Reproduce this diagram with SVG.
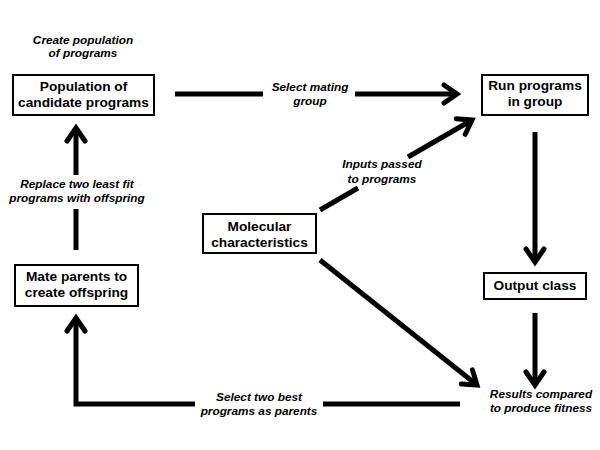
<svg xmlns="http://www.w3.org/2000/svg" width="600" height="450" viewBox="0 0 600 450">
<defs>
<marker id="ah" markerUnits="userSpaceOnUse" viewBox="-20 -15 30 30" markerWidth="30" markerHeight="30" refX="0" refY="0" orient="auto" overflow="visible">
<path d="M-13,-9 L0,0 L-13,9" fill="none" stroke="#000" stroke-width="5" stroke-linejoin="miter" stroke-linecap="round"/>
</marker>
<style>
.box{fill:#fff;stroke:#000;stroke-width:2}
.bt{font-family:"Liberation Sans",Arial,sans-serif;font-size:13.7px;font-weight:bold;text-anchor:middle;fill:#000}
.lb{font-family:"Liberation Sans",Arial,sans-serif;font-size:11.8px;font-weight:bold;font-style:italic;text-anchor:middle;fill:#000}
.c{fill:none;stroke:#000;stroke-width:5}
</style>
</defs>
<rect width="600" height="450" fill="#fff"/>
<g id="connectors">
<path class="c" d="M175,94 L263,94 M355,94 L457,94" marker-end="url(#ah)"/>
<path class="c" d="M320,210 L358,188 M408,157 L472,120" marker-end="url(#ah)"/>
<path class="c" d="M535,132 L535,262" marker-end="url(#ah)"/>
<path class="c" d="M535,313 L535,385" marker-end="url(#ah)"/>
<path class="c" d="M320,260 L477,385" marker-end="url(#ah)"/>
<path class="c" d="M460,404 L323,404 M195,404 L76,404 L76,318" marker-end="url(#ah)"/>
<path class="c" d="M76,250 L76,209 M76,175 L76,128" marker-end="url(#ah)"/>
</g>
<g id="labels">
<text class="lb" x="83" y="44">Create population</text>
<text class="lb" x="83" y="57">of programs</text>
<text class="lb" x="310" y="91">Select mating</text>
<text class="lb" x="310" y="105">group</text>
<text class="lb" x="382" y="168">Inputs passed</text>
<text class="lb" x="382" y="183">to programs</text>
<text class="lb" x="77" y="188">Replace two least fit</text>
<text class="lb" x="77" y="202">programs with offspring</text>
<text class="lb" x="541" y="398">Results compared</text>
<text class="lb" x="541" y="412">to produce fitness</text>
<text class="lb" x="259" y="401">Select two best</text>
<text class="lb" x="259" y="415">programs as parents</text>
</g>
<g id="population">
<rect class="box" x="13" y="75" width="141" height="40"/>
<text class="bt" x="83.5" y="91">Population of</text>
<text class="bt" x="83.5" y="107">candidate programs</text>
</g>
<g id="run">
<rect class="box" x="482" y="75" width="106" height="40"/>
<text class="bt" x="535" y="90">Run programs</text>
<text class="bt" x="535" y="106">in group</text>
</g>
<g id="molecular">
<rect class="box" x="203" y="214" width="113" height="39"/>
<text class="bt" x="259.5" y="231">Molecular</text>
<text class="bt" x="259.5" y="247">characteristics</text>
</g>
<g id="output">
<rect class="box" x="484" y="273" width="102" height="26"/>
<text class="bt" x="535" y="290">Output class</text>
</g>
<g id="mate">
<rect class="box" x="15" y="265" width="123" height="41"/>
<text class="bt" x="76.5" y="281">Mate parents to</text>
<text class="bt" x="76.5" y="297">create offspring</text>
</g>
</svg>
